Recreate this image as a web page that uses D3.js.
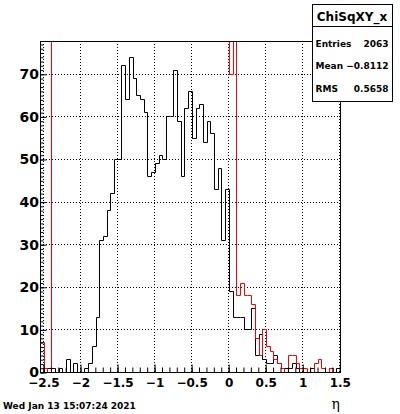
<!DOCTYPE html>
<html>
<head>
<meta charset="utf-8">
<script src="https://cdn.jsdelivr.net/npm/d3@7"></script>
<style>
  body { margin: 0; background: #fff; }
  svg text { font-family: "DejaVu Sans", sans-serif; font-weight: bold; fill: #000; }
</style>
</head>
<body>
<svg id="chart" width="400" height="414"></svg>
<script>
// ChiSqXY_x : 81 bins of 0.05 on [-2.54, 1.51]
const xLow = -2.54;
const xHigh = 1.51;
const nBins = 81;
const yMax = 77.7;

// black histogram counts, bin by bin
const blackCounts = [
  0, 1, 1, 1, 0, 1, 0, 3, 0, 2,
  0, 0, 1, 2, 6, 13, 31, 32, 38, 42,
  50, 50, 72, 64, 74, 69, 65, 64, 61, 46,
  47, 49, 51, 50, 60, 60, 71, 59, 46, 62,
  66, 55, 62, 63, 54, 59, 56, 43, 48, 31,
  43, 19, 13, 13, 13, 10, 10, 15, 4, 9,
  3, 2, 2, 4, 2, 1, 1, 1, 2, 1,
  0, 0, 0, 1, 0, 0, 0, 0, 1, 0,
  1
];

// red histogram counts (most of the middle is off scale)
const redCounts = [
  7, 1, 0, 120, 120, 120, 120, 120, 120, 120,
  120, 120, 120, 120, 120, 120, 120, 120, 120, 120,
  120, 120, 120, 120, 120, 120, 120, 120, 120, 120,
  120, 120, 120, 120, 120, 120, 120, 120, 120, 120,
  120, 120, 120, 120, 120, 120, 120, 120, 120, 120,
  120, 70, 120, 18, 21, 18, 18, 16, 8, 4,
  10, 6, 5, 3, 2, 1, 0, 4, 4, 2,
  1, 1, 0, 0, 2, 3, 1, 0, 1, 0,
  0
];

const xMajorTicks = [-2.5, -2, -1.5, -1, -0.5, 0, 0.5, 1, 1.5];
const xTickLabels = ["\u22122.5", "\u22122", "\u22121.5", "\u22121", "\u22120.5", "0", "0.5", "1", "1.5"];
const yMajorTicks = [0, 10, 20, 30, 40, 50, 60, 70];
const yTickLabels = ["0", "10", "20", "30", "40", "50", "60", "70"];

const statTitle = "ChiSqXY_x";
const statNames = ["Entries", "Mean", "RMS"];
const statValues = ["2063", "\u22120.8112", "0.5658"];
const dateText = "Wed Jan 13 15:07:24 2021";
const xTitle = "\u03b7";

const frame = { left: 40, right: 340, top: 41, bottom: 372 };

const svg = d3.select("#chart");

const x = d3.scaleLinear().domain([xLow, xHigh]).range([frame.left, frame.right]);
const y = d3.scaleLinear().domain([0, yMax]).range([frame.bottom, frame.top]);
const binW = (xHigh - xLow) / nBins;

svg.append("rect").attr("width", 400).attr("height", 414).attr("fill", "#fff");

svg.append("defs").append("clipPath").attr("id", "frameClip")
  .append("rect")
  .attr("x", frame.left).attr("y", frame.top)
  .attr("width", frame.right - frame.left).attr("height", frame.bottom - frame.top);

// dotted grid
const grid = svg.append("g").attr("stroke", "#000").attr("stroke-width", 1)
  .attr("stroke-dasharray", "1,2");
grid.selectAll(".gx").data(xMajorTicks).enter().append("line")
  .attr("x1", d => Math.round(x(d)) + 0.5).attr("x2", d => Math.round(x(d)) + 0.5)
  .attr("y1", frame.top).attr("y2", frame.bottom);
grid.selectAll(".gy").data(yMajorTicks.slice(1)).enter().append("line")
  .attr("y1", d => Math.round(y(d)) + 0.5).attr("y2", d => Math.round(y(d)) + 0.5)
  .attr("x1", frame.left).attr("x2", frame.right);

// step outline of a histogram
function stepPoints(counts) {
  const pts = [[xLow, 0]];
  counts.forEach((c, i) => {
    pts.push([xLow + i * binW, c]);
    pts.push([xLow + (i + 1) * binW, c]);
  });
  pts.push([xHigh, 0]);
  return pts;
}
const line = d3.line()
  .x(d => Math.round(x(d[0])) + 0.5)
  .y(d => Math.round(y(Math.min(d[1], yMax + 2))) + 0.5);

const hists = svg.append("g").attr("clip-path", "url(#frameClip)");
hists.append("path").datum(stepPoints(blackCounts))
  .attr("d", line).attr("fill", "none").attr("stroke", "#000").attr("stroke-width", 1);
hists.append("path").datum(stepPoints(redCounts))
  .attr("d", line).attr("fill", "none").attr("stroke", "#ff0000").attr("stroke-width", 1);

// frame
svg.append("rect")
  .attr("x", frame.left + 0.5).attr("y", frame.top + 0.5)
  .attr("width", frame.right - frame.left).attr("height", frame.bottom - frame.top)
  .attr("fill", "none").attr("stroke", "#000").attr("stroke-width", 1);

// x axis: minor ticks, then major ticks with labels
const xMinor = svg.append("g").attr("transform", `translate(0.5,${frame.bottom + 0.5})`)
  .call(d3.axisBottom(x).tickValues(x.ticks(40)).tickSizeInner(-5).tickSizeOuter(0).tickFormat(""));
const xMajor = svg.append("g").attr("transform", `translate(0.5,${frame.bottom + 0.5})`)
  .call(d3.axisBottom(x).tickValues(xMajorTicks).tickSizeInner(-8).tickSizeOuter(0).tickPadding(6)
    .tickFormat((d, i) => xTickLabels[i]));

// y axis
const yMinor = svg.append("g").attr("transform", `translate(${frame.left + 0.5},0.5)`)
  .call(d3.axisLeft(y).tickValues(y.ticks(77)).tickSizeInner(-3).tickSizeOuter(0).tickFormat(""));
const yMajor = svg.append("g").attr("transform", `translate(${frame.left + 0.5},0.5)`)
  .call(d3.axisLeft(y).tickValues(yMajorTicks).tickSizeInner(-6).tickSizeOuter(0).tickPadding(1.5)
    .tickFormat((d, i) => yTickLabels[i]));

[xMinor, xMajor, yMinor, yMajor].forEach(g => {
  g.select(".domain").remove();
  g.selectAll("line").attr("stroke", "#000");
});
xMajor.selectAll("text").attr("font-size", 12).style("font-family", "'DejaVu Sans', sans-serif");
yMajor.selectAll("text").attr("font-size", 14).style("font-family", "'DejaVu Sans', sans-serif");

// stats box
const box = svg.append("g");
box.append("rect").attr("x", 312.5).attr("y", 4.5).attr("width", 80).attr("height", 97)
  .attr("fill", "#fff").attr("stroke", "#000");
box.append("line").attr("x1", 312.5).attr("x2", 392.5).attr("y1", 26.5).attr("y2", 26.5)
  .attr("stroke", "#000");
box.append("text").attr("x", 352).attr("y", 20.5).attr("text-anchor", "middle")
  .attr("font-size", 12).text(statTitle);
const rows = box.selectAll(".row").data(statNames).enter().append("g");
rows.append("text").attr("x", 315.5).attr("y", (d, i) => 47 + i * 22.3)
  .attr("font-size", 9).text(d => d);
rows.append("text").attr("x", 388.5).attr("y", (d, i) => 47 + i * 22.3)
  .attr("font-size", 9).attr("text-anchor", "end").text((d, i) => statValues[i]);

// date stamp and axis title
svg.append("text").attr("x", 3).attr("y", 408.5).attr("font-size", 9).text(dateText);
svg.append("text").attr("x", 340).attr("y", 409).attr("text-anchor", "end")
  .attr("font-size", 14).style("font-weight", "normal")
  .style("font-family", "'DejaVu Serif', serif").text(xTitle);
</script>
</body>
</html>
